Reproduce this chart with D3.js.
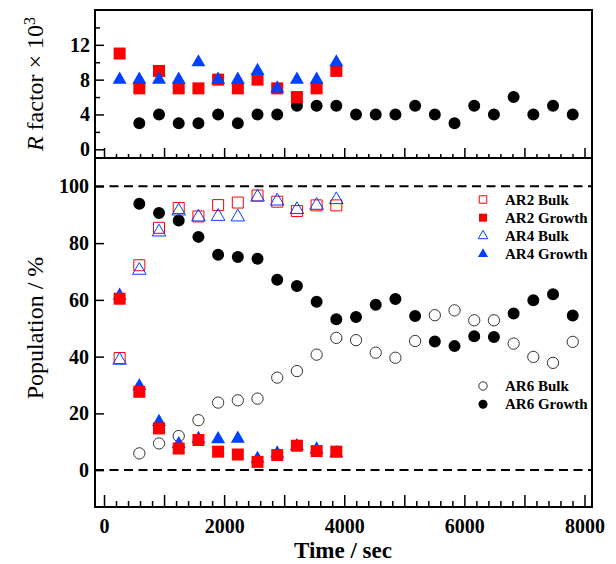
<!DOCTYPE html>
<html>
<head>
<meta charset="utf-8">
<script src="https://cdn.jsdelivr.net/npm/d3@7"></script>
<style>
  body { margin: 0; background: #fff; }
  svg text { font-family: "Liberation Serif", "Times New Roman", serif; }
  .tick text { font-size: 20px; font-weight: bold; fill: #000; }
  .tick line { stroke: #000; stroke-width: 1.5; }
</style>
</head>
<body>
<script>
// time points (sec), shared by every series
var times = [260, 588, 916, 1244, 1572, 1900, 2228, 2556, 2884, 3212, 3540, 3868,
             4196, 4524, 4852, 5180, 5508, 5836, 6164, 6492, 6820, 7148, 7476, 7804];

// R factor x 10^3 (upper panel)
var rAR2 = [11, 7, 9, 7, 7, 8, 7, 8, 7, 6, 7, 9];
var rAR4 = [8, 8, 8, 8, 10, 8, 8, 9, 7, 8, 8, 10];
var rAR6 = [null, 3, 4, 3, 3, 4, 3, 4, 4, 5, 5, 5, 4, 4, 4, 5, 4, 3, 5, 4, 6, 4, 5, 4];

// population % (lower panel)
var ar2Bulk   = [39.5, 72.2, 85.4, 92.4, 89.4, 93.4, 94.3, 96.8, 94.6, 91.3, 93.3, 93.3];
var ar2Growth = [60.4, 27.6, 14.7, 7.6, 10.6, 6.5, 5.5, 2.9, 5.3, 8.6, 6.7, 6.5];
var ar4Bulk   = [38.7, 70.4, 83.9, 91.3, 89.2, 89.4, 89.2, 96.2, 94.8, 91.8, 93.3, 95.3];
var ar4Growth = [61.5, 29.6, 17.0, 9.2, 11, 10.9, 11.1, 4, 5.9, 8.5, 7.3, 6];
var ar6Bulk   = [null, 5.9, 9.4, 12, 17.6, 23.8, 24.6, 25.2, 32.6, 34.9, 40.7, 46.6,
                 45.8, 41.4, 39.6, 45.5, 54.6, 56.3, 52.8, 52.8, 44.6, 39.9, 37.8, 45.2];
var ar6Growth = [null, 93.9, 90.6, 88, 82.2, 75.9, 75.1, 74.5, 67.1, 64.9, 59.3, 53.2,
                 54, 58.3, 60.3, 54.3, 45.3, 43.7, 47.2, 46.9, 55.2, 59.9, 62, 54.5];

var xMajor = [0, 2000, 4000, 6000, 8000];
var rMajor = [0, 4, 8, 12];
var popMajor = [0, 20, 40, 60, 80, 100];

var legend1 = ["AR2 Bulk", "AR2 Growth", "AR4 Bulk", "AR4 Growth"];
var legend2 = ["AR6 Bulk", "AR6 Growth"];

var RED = "#ff0000", BLUE = "#0040ff";

var svg = d3.select("body").append("svg")
    .attr("width", 616)
    .attr("height", 564);

var left = 95, right = 592, top1 = 10, mid = 158, bottom = 507;

var x = d3.scaleLinear().domain([-150, 8125]).range([left, right]);
var yR = d3.scaleLinear().domain([-1, 16]).range([mid, top1]);
var yP = d3.scaleLinear().domain([-13, 110]).range([bottom, mid]);

var minorX = d3.range(0, 8001, 200).filter(function(v) { return v % 1000 != 0; });
var midX = d3.range(1000, 8000, 2000);

// --- axes ---
function bottomTicks(yPos, vals, size, labels) {
    var ax = d3.axisBottom(x).tickValues(vals).tickSizeInner(-size).tickSizeOuter(0).tickPadding(12);
    ax.tickFormat(labels ? d3.format("d") : "");
    var g = svg.append("g").attr("transform", "translate(0," + yPos + ")").call(ax);
    g.select(".domain").remove();
    return g;
}
bottomTicks(mid, minorX, 4, false);
bottomTicks(mid, xMajor.concat(midX), 10, false);
bottomTicks(bottom, minorX, 6, false);
bottomTicks(bottom, midX, 12, false);
bottomTicks(bottom, xMajor, 12, true);

var gR = svg.append("g").attr("transform", "translate(" + left + ",0)")
    .call(d3.axisLeft(yR).tickValues(rMajor).tickSizeInner(-9).tickSizeOuter(0).tickPadding(5));
gR.select(".domain").remove();
var gRm = svg.append("g").attr("transform", "translate(" + left + ",0)")
    .call(d3.axisLeft(yR).tickValues([2, 6, 10, 14]).tickSizeInner(-5).tickSizeOuter(0).tickFormat(""));
gRm.select(".domain").remove();

var gP = svg.append("g").attr("transform", "translate(" + left + ",0)")
    .call(d3.axisLeft(yP).tickValues(popMajor).tickSizeInner(-9).tickSizeOuter(0).tickPadding(6));
gP.select(".domain").remove();

// dashed reference lines
[0, 100].forEach(function(v) {
    svg.append("line")
        .attr("x1", left).attr("x2", right)
        .attr("y1", yP(v)).attr("y2", yP(v))
        .attr("stroke", "#000").attr("stroke-width", 2)
        .attr("stroke-dasharray", "9,5.5");
});

// frame
svg.append("rect")
    .attr("x", left).attr("y", top1)
    .attr("width", right - left).attr("height", bottom - top1)
    .attr("fill", "none").attr("stroke", "#000").attr("stroke-width", 2);
svg.append("line")
    .attr("x1", left).attr("x2", right).attr("y1", mid).attr("y2", mid)
    .attr("stroke", "#000").attr("stroke-width", 2);

// --- marks ---
function pts(vals) {
    return vals.map(function(v, i) { return { t: times[i], v: v }; })
               .filter(function(d) { return d.v != null; });
}

function drawSeries(vals, y, type, size, fill, stroke, sw) {
    svg.append("g").selectAll("path")
        .data(pts(vals)).enter().append("path")
        .attr("transform", function(d) { return "translate(" + x(d.t) + "," + y(d.v) + ")"; })
        .attr("d", d3.symbol().type(type).size(size))
        .attr("fill", fill)
        .attr("stroke", stroke)
        .attr("stroke-width", sw);
}

// upper panel
drawSeries(rAR6, yR, d3.symbolCircle, 113, "#000", "none", 0);
drawSeries(rAR2, yR, d3.symbolSquare, 144, RED, "none", 0);
drawSeries(rAR4, yR, d3.symbolTriangle, 85, BLUE, "none", 0);

// lower panel
drawSeries(ar6Bulk, yP, d3.symbolCircle, 100, "none", "#333", 1);
drawSeries(ar6Growth, yP, d3.symbolCircle, 113, "#000", "none", 0);
drawSeries(ar4Growth, yP, d3.symbolTriangle, 85, BLUE, "none", 0);
drawSeries(ar2Growth, yP, d3.symbolSquare, 144, RED, "none", 0);
drawSeries(ar2Bulk, yP, d3.symbolSquare, 121, "none", RED, 1);
drawSeries(ar4Bulk, yP, d3.symbolTriangle, 80, "none", BLUE, 1);

// --- legends ---
var legSym1 = [
    { type: d3.symbolSquare, size: 56, fill: "none", stroke: RED },
    { type: d3.symbolSquare, size: 64, fill: RED, stroke: "none" },
    { type: d3.symbolTriangle, size: 40, fill: "none", stroke: BLUE },
    { type: d3.symbolTriangle, size: 45, fill: BLUE, stroke: "none" }
];
var legSym2 = [
    { type: d3.symbolCircle, size: 55, fill: "none", stroke: "#333" },
    { type: d3.symbolCircle, size: 64, fill: "#000", stroke: "none" }
];

function legend(names, syms, y0) {
    var g = svg.append("g");
    names.forEach(function(n, i) {
        var yy = y0 + i * 18.2;
        g.append("path")
            .attr("transform", "translate(483," + yy + ")")
            .attr("d", d3.symbol().type(syms[i].type).size(syms[i].size))
            .attr("fill", syms[i].fill)
            .attr("stroke", syms[i].stroke)
            .attr("stroke-width", 1);
        g.append("text")
            .attr("x", 505).attr("y", yy)
            .attr("dy", "0.35em")
            .style("font-size", "15px").style("font-weight", "bold")
            .text(n);
    });
}
legend(legend1, legSym1, 199.5);
legend(legend2, legSym2, 386);

// --- axis titles ---
var rt = svg.append("text")
    .attr("transform", "translate(43,84) rotate(-90)")
    .attr("text-anchor", "middle")
    .style("font-size", "24px");
rt.append("tspan").style("font-style", "italic").text("R");
rt.append("tspan").text(" factor \u00d7 10");
rt.append("tspan").attr("dy", "-0.5em").style("font-size", "16px").text("3");

svg.append("text")
    .attr("transform", "translate(43,328) rotate(-90)")
    .attr("text-anchor", "middle")
    .style("font-size", "24px")
    .text("Population / %");

svg.append("text")
    .attr("x", 343).attr("y", 558)
    .attr("text-anchor", "middle")
    .style("font-size", "23px").style("font-weight", "bold")
    .text("Time / sec");
</script>
</body>
</html>
